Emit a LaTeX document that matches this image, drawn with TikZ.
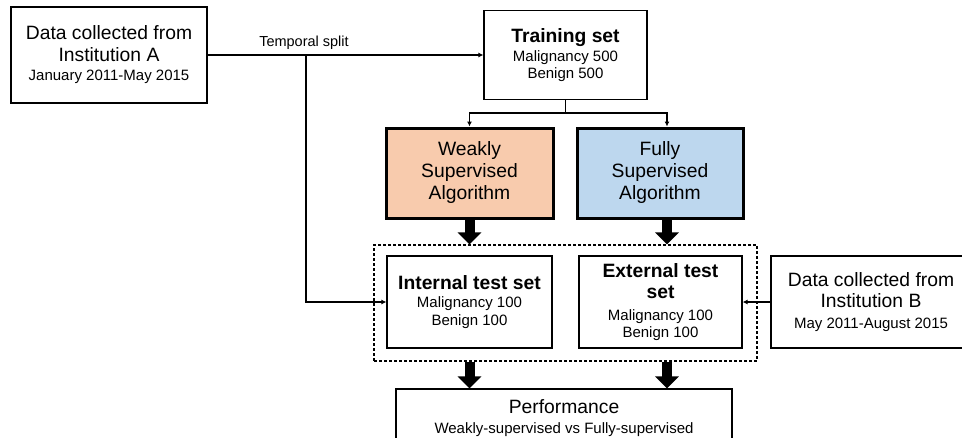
\documentclass[tikz,border=0pt]{standalone}
\usepackage{fontspec}
\setmainfont{Liberation Sans}
\usetikzlibrary{arrows.meta}

\definecolor{weakfill}{RGB}{248,203,173}
\definecolor{fullfill}{RGB}{189,215,238}

\newcommand{\bigtxt}{\fontsize{19.3}{22}\selectfont}
\newcommand{\smalltxt}{\fontsize{15}{17.5}\selectfont}
\newcommand{\headtxt}{\fontsize{19.3}{21}\selectfont\bfseries}

\tikzset{
  box/.style={draw, line width=1.2pt, align=center, inner sep=0pt, font=\smalltxt},
  algo/.style={box, line width=3pt, font=\bigtxt},
  bigflow/.style={line width=10pt, -{Triangle[length=12pt,width=23pt]}},
}

\begin{document}
\begin{tikzpicture}[x=1pt, y=-1pt, >={Latex[length=5pt,width=5pt]}, line width=1.2pt]
  \useasboundingbox (0,0) rectangle (962,437);

  % dashed frame round both test sets
  \node (group) [draw, dash pattern=on 3pt off 2pt, minimum width=383pt, minimum height=116pt] at (565.5,303) {};

  \node (instA) [box, minimum width=196pt, minimum height=96pt] at (109,55)
    {{\bigtxt Data collected from}\\[4pt]{\bigtxt Institution A}\\[2pt]January 2011-May 2015};
  \node (train) [box, minimum width=163pt, minimum height=89pt] at (565.5,55)
    {{\headtxt Training set}\\[1.5pt]Malignancy 500\\Benign 500};

  \node (weak) [algo, fill=weakfill, minimum width=167pt, minimum height=90pt] at (469.5,173)
    {Weakly\\Supervised\\Algorithm};
  \node (full) [algo, fill=fullfill, minimum width=166pt, minimum height=90pt] at (660,173)
    {Fully\\Supervised\\Algorithm};

  \node (intest) [box, minimum width=165pt, minimum height=92pt] at (469.5,302)
    {{\headtxt Internal test set}\\[0.5pt]Malignancy 100\\Benign 100};
  \node (extest) [box, minimum width=163pt, minimum height=92pt] at (660.5,302)
    {{\headtxt External test}\\[3.5pt]{\headtxt set}\\[4.5pt]Malignancy 100\\Benign 100};
  \node (instB) [box, minimum width=200pt, minimum height=92pt] at (871,302)
    {{\bigtxt Data collected from}\\[3.5pt]{\bigtxt Institution B}\\[3.5pt]May 2011-August 2015};

  \node (perf) [box, minimum width=336pt, minimum height=58pt] at (564,418)
    {{\bigtxt Performance}\\[2pt]Weakly-supervised vs Fully-supervised};

  \node (splitlbl) [font=\fontsize{14.5}{17}\selectfont, anchor=base] at (304,46) {Temporal split};

  % thin connectors
  \coordinate (split) at (306,55);
  \coordinate (fork) at (565.5,113);
  \draw [->] (instA.east) -- (train.west);
  \draw [->] (split) |- (intest.west);
  \draw (train.south) -- (fork);
  \draw [->] (fork) -| (weak.north);
  \draw [->] (fork) -| ([xshift=7pt]full.north);
  \draw [->] (instB.west) -- (extest.east);

  % block arrows
  \coordinate (fullcol) at ([xshift=7pt]full.south);
  \draw [bigflow] (weak.south) -- (weak.south |- group.north);
  \draw [bigflow] (fullcol) -- (fullcol |- group.north);
  \draw [bigflow] (group.south -| weak.south) -- (perf.north -| weak.south);
  \draw [bigflow] (group.south -| fullcol) -- (perf.north -| fullcol);
\end{tikzpicture}
\end{document}
